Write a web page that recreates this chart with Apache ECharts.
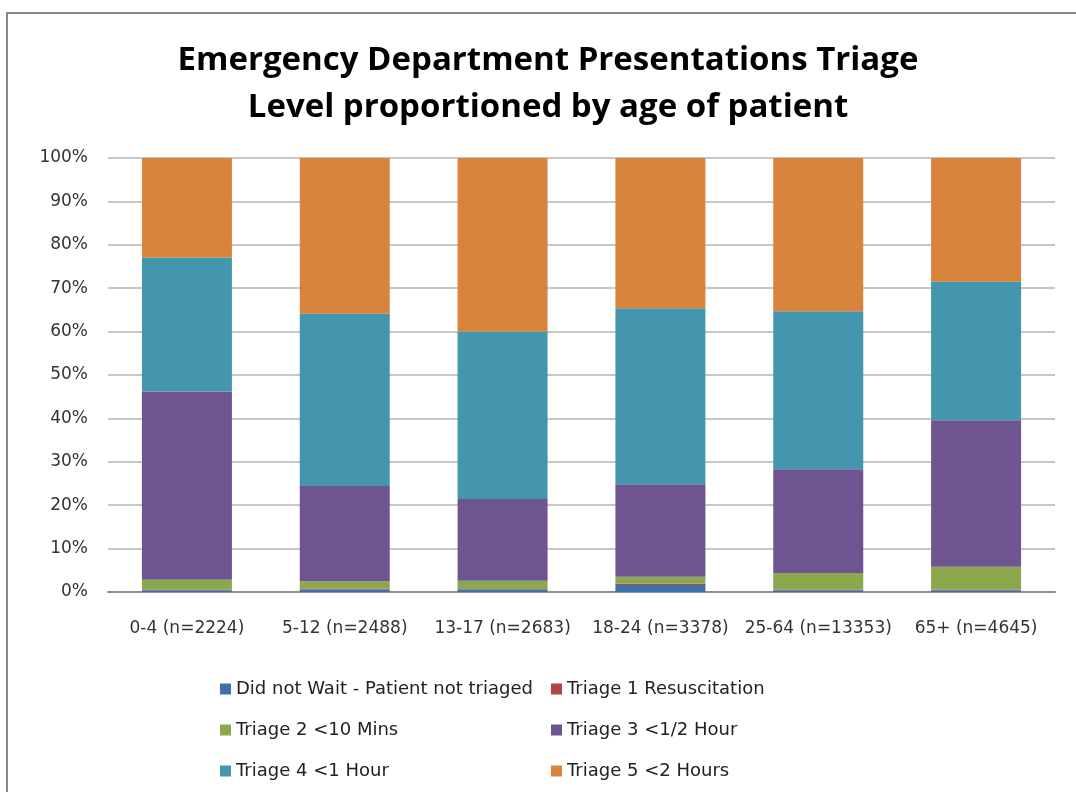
<!DOCTYPE html>
<html>
<head>
<meta charset="utf-8">
<title>ED Presentations Triage</title>
<script src="https://cdn.jsdelivr.net/npm/echarts@6/dist/echarts.min.js"></script>
<style>
    html, body {
        margin: 0;
        padding: 0;
        background: #fff;
    }
    #chart {
        width: 1076px;
        height: 792px;
    }
</style>
</head>
<body>
<div id="chart"></div>
<script>
// age groups
const categories = ['0-4 (n=2224)', '5-12 (n=2488)', '13-17 (n=2683)', '18-24 (n=3378)', '25-64 (n=13353)', '65+ (n=4645)']
const yTicks = [0, 10, 20, 30, 40, 50, 60, 70, 80, 90, 100]

// share of presentations (%)
const didNotWait = [0.4, 0.6, 0.6, 1.6, 0.4, 0.4]
const triage1 = [0.1, 0.2, 0.1, 0.3, 0.2, 0.2]
const triage2 = [2.3, 1.7, 1.9, 1.6, 3.8, 5.2]
const triage3 = [43.4, 21.9, 18.8, 21.3, 23.9, 33.8]
const triage4 = [30.9, 39.7, 38.6, 40.6, 36.4, 31.9]
const triage5 = [22.9, 35.9, 40.0, 34.6, 35.3, 28.5]

const seriesDefs = [
    { name: 'Did not Wait - Patient not triaged', data: didNotWait, color: '#3f70ae' },
    { name: 'Triage 1 Resuscitation', data: triage1, color: '#b04541' },
    { name: 'Triage 2 <10 Mins', data: triage2, color: '#8ca84c' },
    { name: 'Triage 3 <1/2 Hour', data: triage3, color: '#6e5490' },
    { name: 'Triage 4 <1 Hour', data: triage4, color: '#4396ae' },
    { name: 'Triage 5 <2 Hours', data: triage5, color: '#d9843d' }
]

const chart = echarts.init(document.getElementById('chart'))

const legendBase = {
    orient: 'vertical',
    top: 675,
    itemWidth: 11,
    itemHeight: 11,
    itemGap: 23,
    icon: 'rect',
    textStyle: {
        fontFamily: 'DejaVu Sans',
        fontSize: 18,
        color: '#222'
    }
}

chart.setOption({
    animation: false,
    color: seriesDefs.map(s => s.color),
    graphic: [
        {
            type: 'rect',
            shape: { x: 7, y: 13, width: 1200, height: 900 },
            style: { fill: 'none', stroke: '#8a8a8a', lineWidth: 2 }
        }
    ],
    title: {
        text: 'Emergency Department Presentations Triage\nLevel proportioned by age of patient',
        left: 543,
        textAlign: 'center',
        top: 32,
        textStyle: {
            fontFamily: 'Open Sans',
            fontSize: 33,
            fontWeight: 'bold',
            color: '#000',
            lineHeight: 47
        }
    },
    legend: [
        Object.assign({}, legendBase, {
            left: 215,
            data: [seriesDefs[0].name, seriesDefs[2].name, seriesDefs[4].name]
        }),
        Object.assign({}, legendBase, {
            left: 546,
            data: [seriesDefs[1].name, seriesDefs[3].name, seriesDefs[5].name]
        })
    ],
    grid: {
        left: 108,
        right: 21,
        top: 158,
        bottom: 200
    },
    xAxis: {
        type: 'category',
        data: categories,
        axisTick: { show: false },
        axisLine: { lineStyle: { color: '#8c8c8c', width: 2 } },
        axisLabel: {
            interval: 0,
            margin: 28,
            fontFamily: 'DejaVu Sans',
            fontSize: 17,
            color: '#333'
        }
    },
    yAxis: {
        type: 'value',
        min: 0,
        max: 100,
        interval: 10,
        axisLine: { show: false },
        axisTick: { show: false },
        splitLine: { lineStyle: { color: '#b4b4b4', width: 1.5 } },
        axisLabel: {
            margin: 20,
            fontFamily: 'DejaVu Sans',
            fontSize: 17,
            color: '#333',
            formatter: v => (yTicks.includes(v) ? v + '%' : '')
        }
    },
    series: seriesDefs.map(s => ({
        name: s.name,
        type: 'bar',
        stack: 'total',
        barWidth: 90,
        data: s.data,
        itemStyle: { color: s.color }
    }))
})
</script>
</body>
</html>
